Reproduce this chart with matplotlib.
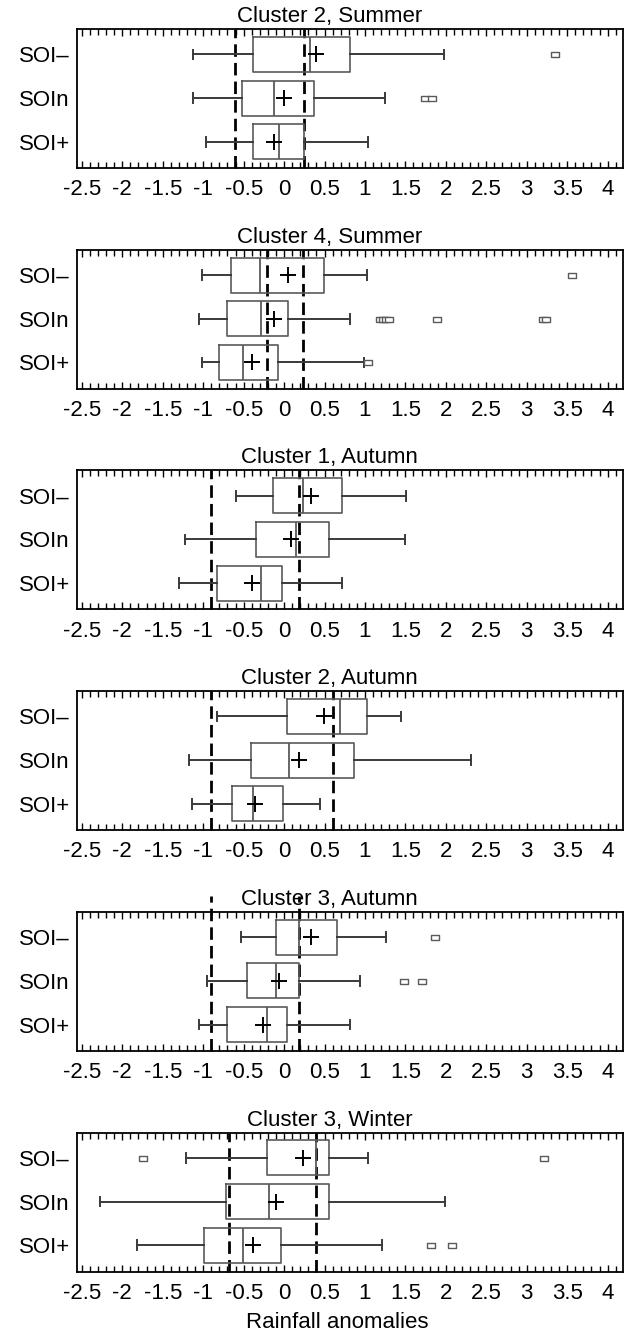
import matplotlib
matplotlib.use("Agg")
import matplotlib.pyplot as plt
from matplotlib.ticker import MultipleLocator, FuncFormatter

plt.rcParams["font.family"] = ["Liberation Sans", "DejaVu Sans"]
plt.rcParams["axes.unicode_minus"] = False

# Panel titles and groups
titles = ["Cluster 2, Summer", "Cluster 4, Summer", "Cluster 1, Autumn",
          "Cluster 2, Autumn", "Cluster 3, Autumn", "Cluster 3, Winter"]
groups = ["SOI–", "SOIn", "SOI+"]

# Box statistics per panel (SOI-, SOIn, SOI+)
whislo = [[-1.12, -1.12, -0.96], [-1.01, -1.05, -1.02], [-0.59, -1.22, -1.30],
          [-0.83, -1.18, -1.14], [-0.53, -0.95, -1.05], [-1.21, -2.27, -1.82]]
q1 = [[-0.38, -0.52, -0.38], [-0.66, -0.71, -0.81], [-0.14, -0.35, -0.83],
      [0.03, -0.41, -0.64], [-0.10, -0.46, -0.70], [-0.21, -0.72, -0.99]]
med = [[0.32, -0.12, -0.06], [-0.30, -0.28, -0.51], [0.24, 0.15, -0.28],
       [0.69, 0.06, -0.38], [0.19, -0.10, -0.21], [0.40, -0.19, -0.51]]
q3 = [[0.81, 0.37, 0.25], [0.49, 0.05, -0.08], [0.72, 0.56, -0.03],
      [1.03, 0.87, -0.01], [0.66, 0.18, 0.04], [0.56, 0.56, -0.04]]
whishi = [[1.98, 1.25, 1.04], [1.03, 0.82, 0.99], [1.51, 1.49, 0.72],
          [1.45, 2.31, 0.45], [1.26, 0.94, 0.81], [1.04, 1.99, 1.21]]
means = [[0.39, 0.00, -0.12], [0.05, -0.12, -0.40], [0.33, 0.08, -0.40],
         [0.49, 0.19, -0.36], [0.33, -0.06, -0.26], [0.24, -0.10, -0.39]]
fliers = [[[3.35], [1.74, 1.83], []],
          [[3.56], [1.18, 1.22, 1.26, 1.30, 1.89, 3.20, 3.24], [1.04]],
          [[], [], []],
          [[], [], []],
          [[1.87], [1.48, 1.71], []],
          [[-1.75, 3.21], [], [1.82, 2.08]]]

# Dashed threshold lines
lower_thr = [-0.61, -0.21, -0.90, -0.90, -0.90, -0.68]
upper_thr = [0.25, 0.23, 0.19, 0.61, 0.19, 0.39]

W, H = 638, 1338
fig = plt.figure(figsize=(W / 100, H / 100), dpi=100)

box_col = "#5a5a5a"
whis_col = "#3a3a3a"
rect = [(-1, -0.6), (1, -0.6), (1, 0.6), (-1, 0.6), (-1, -0.6)]

for i, title in enumerate(titles):
    top = 29 + 220.7 * i
    ax = fig.add_axes([77 / W, 1 - (top + 139) / H, 546 / W, 139 / H])

    stats = []
    for j in range(3):
        stats.append(dict(med=med[i][j], q1=q1[i][j], q3=q3[i][j],
                          whislo=whislo[i][j], whishi=whishi[i][j],
                          mean=means[i][j], fliers=fliers[i][j]))

    ax.bxp(stats, positions=[1, 2, 3], widths=0.8, orientation="horizontal",
           showmeans=True, capwidths=0.22,
           boxprops=dict(color=box_col, lw=1.2),
           medianprops=dict(color=box_col, lw=1.3),
           whiskerprops=dict(color=whis_col, lw=1.4),
           capprops=dict(color=whis_col, lw=1.4),
           meanprops=dict(marker="+", markersize=11, markeredgewidth=1.4,
                          markeredgecolor="black"),
           flierprops=dict(marker=rect, markersize=6, markerfacecolor="white",
                           markeredgecolor=box_col, markeredgewidth=1.0))

    # panel 5 dashes run up past the frame in the original
    ymax = 1.116 if i == 4 else 1.0
    for v in (lower_thr[i], upper_thr[i]):
        ax.axvline(v, ymin=0, ymax=ymax, color="black", lw=2,
                   linestyle=(0, (4.5, 2.2)), clip_on=False, zorder=1)

    ax.set_xlim(-2.56, 4.19)
    ax.set_ylim(3.6, 0.42)
    ax.set_yticks([1, 2, 3])
    ax.set_yticklabels(groups, fontsize=16)
    ax.tick_params(axis="y", length=0, pad=5)

    ax.xaxis.set_major_locator(MultipleLocator(0.5))
    ax.xaxis.set_minor_locator(MultipleLocator(0.1))
    ax.xaxis.set_major_formatter(FuncFormatter(lambda v, p: f"{v + 0.0:g}"))
    ax.tick_params(axis="x", which="both", direction="in", top=True,
                   labelsize=16, pad=8, width=1)
    ax.tick_params(axis="x", which="major", length=5)
    ax.tick_params(axis="x", which="minor", length=4)

    for s in ax.spines.values():
        s.set_linewidth(1.3)

    ax.set_title(title, fontsize=16, x=0.463, pad=5)

    if i == len(titles) - 1:
        ax.set_xlabel("Rainfall anomalies", fontsize=16, labelpad=6)
        ax.xaxis.label.set_x(0.476)

fig.savefig("out.png", dpi=100)
